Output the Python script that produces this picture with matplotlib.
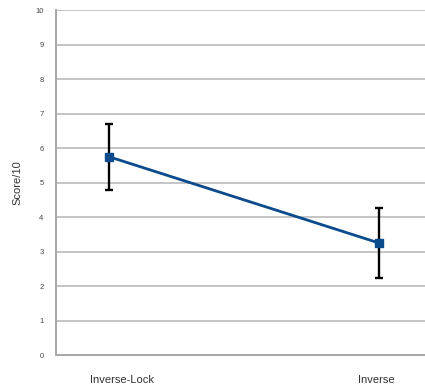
import matplotlib
matplotlib.use("Agg")
import matplotlib.pyplot as plt
from matplotlib.transforms import ScaledTranslation

plt.rcParams["font.family"] = ["Liberation Sans", "DejaVu Sans"]

# Mean scores and error half-widths per condition
conditions = ["Inverse-Lock", "Inverse"]
means = [5.75, 3.25]
errors = [0.96, 1.02]
y_ticks = list(range(0, 11))

fig = plt.figure(figsize=(4.25, 3.89), dpi=100)
ax = fig.add_axes([0.132, 0.087, 0.868, 0.887])

x = list(range(len(conditions)))
ax.errorbar(x, means, yerr=errors, color="#0b4a8b", lw=2.0,
            marker="s", markersize=5.5, ecolor="black", elinewidth=1.7,
            capsize=2.7, capthick=1.7, zorder=3)

ax.set_xlim(-0.196, 1.17)
ax.set_ylim(0, 10)
ax.set_yticks(y_ticks)
ax.set_yticklabels([str(v) for v in y_ticks], fontsize=5.5, color="#444444")
ax.set_xticks(x)
ax.set_xticklabels(conditions, fontsize=8, color="#333333")
ax.tick_params(axis="both", length=0)
ax.tick_params(axis="x", pad=14)
ax.tick_params(axis="y", pad=9)

labels = ax.get_xticklabels()
labels[0].set_transform(labels[0].get_transform() + ScaledTranslation(0.13, 0, fig.dpi_scale_trans))
labels[1].set_transform(labels[1].get_transform() + ScaledTranslation(-0.03, 0, fig.dpi_scale_trans))

ax.set_ylabel("Score/10", fontsize=8, color="#333333", labelpad=9)

ax.grid(axis="y", color="#c4c4c4", lw=1.4, zorder=0)
ax.set_axisbelow(True)
for side in ["top", "right"]:
    ax.spines[side].set_visible(False)
for side in ["left", "bottom"]:
    ax.spines[side].set_color("#a8a8a8")
    ax.spines[side].set_linewidth(1.4)

fig.savefig("out.png", dpi=100)
